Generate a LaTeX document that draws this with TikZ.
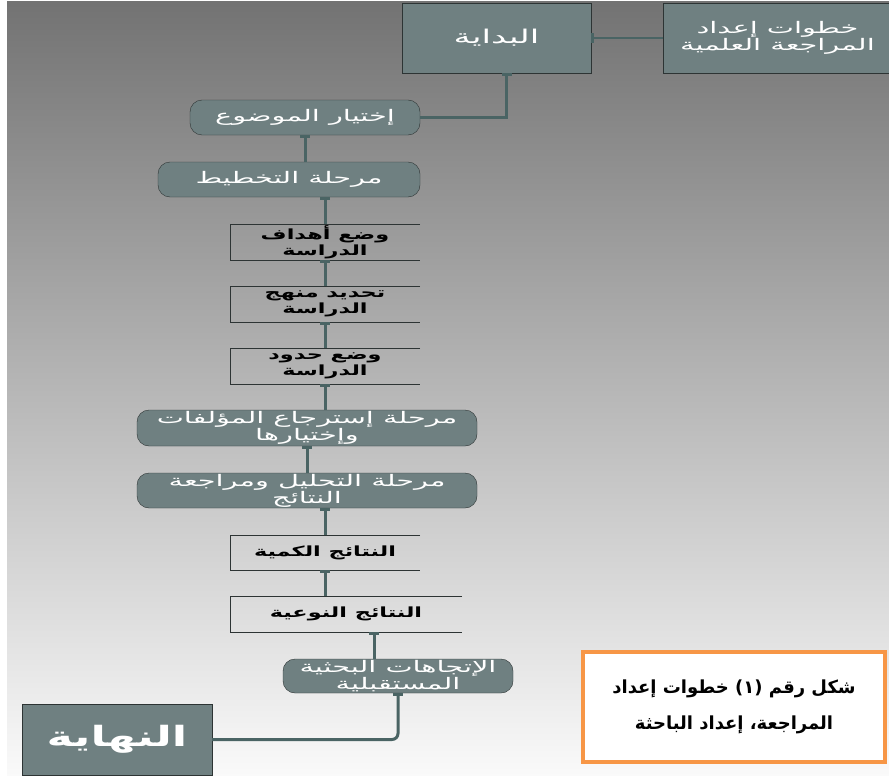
\documentclass[tikz,border=0pt]{standalone}
\usepackage{fontspec}
\usepackage{tikz}
\usetikzlibrary{arrows.meta}
\TeXXeTstate=1
\newfontfamily\arabicwide[Script=Arabic,FakeStretch=1.8]{DejaVu Sans}
\newfontfamily\arabicfont[Script=Arabic,FakeStretch=1.6]{DejaVu Sans}
\newfontfamily\captionfont[Script=Arabic]{DejaVu Sans}
\definecolor{boxteal}{RGB}{111,128,129}
\definecolor{linkteal}{RGB}{74,100,100}
\definecolor{framegray}{RGB}{45,52,52}
\definecolor{capborder}{RGB}{247,150,70}
\newcommand{\artext}[1]{\beginR #1\endR}

\begin{document}
\begin{tikzpicture}[x=1pt,y=-1pt,
    terminal/.style={draw=framegray,fill=boxteal,text=white,align=center,inner sep=0pt,
      font=\arabicwide\fontsize{16}{17}\selectfont},
    phase/.style={terminal,rounded corners=12pt,font=\arabicwide\fontsize{16}{17}\selectfont},
    stage/.style={inner sep=0pt,align=center,font=\arabicfont\bfseries\fontsize{14}{16}\selectfont},
    link/.style={draw=linkteal,line width=3pt,{Rectangle[length=3pt,width=10pt]}-}]
      \useasboundingbox (0,0) rectangle (889,776);
      \shade[top color=black!55,middle color=black!22,bottom color=black!2] (7,2) rectangle (889,776);

      \node[terminal,minimum width=189pt,minimum height=70pt,font=\arabicwide\fontsize{19}{20}\selectfont] (start) at (496.5,38) {\artext{البداية}};
      \node[terminal,minimum width=229pt,minimum height=70pt] (steps) at (777.5,38) {\artext{خطوات إعداد}\\\artext{المراجعة العلمية}};
      \node[phase,minimum width=230pt,minimum height=35pt] (choose) at (305,117.5) {\artext{إختيار الموضوع}};
      \node[phase,minimum width=262pt,minimum height=35pt] (plan) at (289,179.5) {\artext{مرحلة التخطيط}};
      \node[stage,minimum width=190pt,minimum height=36pt] (goals) at (325,242) {\artext{وضع أهداف}\\\artext{الدراسة}};
      \node[stage,minimum width=190pt,minimum height=36pt] (method) at (325,304) {\artext{تحديد منهج}\\\artext{الدراسة}};
      \node[stage,minimum width=190pt,minimum height=36pt] (limits) at (325,366) {\artext{وضع حدود}\\\artext{الدراسة}};
      \node[phase,minimum width=340pt,minimum height=36pt] (retrieve) at (307,428) {\artext{مرحلة إسترجاع المؤلفات}\\\artext{وإختيارها}};
      \node[phase,minimum width=340pt,minimum height=35pt] (analysis) at (307,490.5) {\artext{مرحلة التحليل ومراجعة}\\\artext{النتائج}};
      \node[stage,minimum width=190pt,minimum height=35pt] (quant) at (325,552.5) {\artext{النتائج الكمية}};
      \node[stage,minimum width=232pt,minimum height=36pt] (qual) at (346,614) {\artext{النتائج النوعية}};
      \node[phase,minimum width=230pt,minimum height=34pt] (future) at (398,676) {\artext{الإتجاهات البحثية}\\\artext{المستقبلية}};
      \node[terminal,minimum width=190pt,minimum height=71pt,font=\arabicfont\bfseries\fontsize{28}{30}\selectfont] (finish) at (117,739.5) {\artext{النهاية}};
      \node[draw=capborder,line width=3.5pt,fill=white,minimum width=302pt,minimum height=110pt,align=center,
        font=\captionfont\bfseries\fontsize{18}{36}\selectfont] (caption) at (734,707) {\artext{شكل رقم (١) خطوات إعداد}\\\artext{المراجعة، إعداد الباحثة}};

      \foreach \n in {goals,method,limits,quant,qual}
        \draw[framegray] (\n.north east) -- (\n.north west) -- (\n.south west) -- (\n.south east);

      \draw[link,line width=1.5pt] (start.east) -- (steps.west);
      \draw[link] ([xshift=10pt]start.south) |- (choose.east);
      \draw[link] (choose.south) -- (choose.south |- plan.north);
      \draw[link] (plan.south -| goals.north) -- (goals.north);
      \draw[link] (goals.south) -- (method.north);
      \draw[link] (method.south) -- (limits.north);
      \draw[link] (limits.south) -- (limits.south |- retrieve.north);
      \draw[link] (retrieve.south) -- (analysis.north);
      \draw[link] (analysis.south -| quant.north) -- (quant.north);
      \draw[link] (quant.south) -- (quant.south |- qual.north);
      \draw[link] ([xshift=28pt]qual.south) -- ([xshift=28pt]qual.south |- future.north);
      \draw[link,rounded corners=6pt] (future.south) |- (finish.east);
    \end{tikzpicture}
\end{document}
